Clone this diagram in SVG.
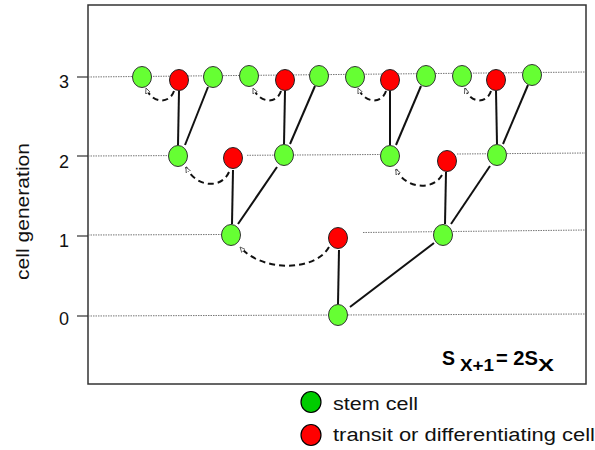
<svg xmlns="http://www.w3.org/2000/svg" width="595" height="450" viewBox="0 0 595 450">
<defs>
<style>
.grid{stroke:#666;stroke-width:0.9;stroke-dasharray:1.5 1;fill:none}
.frame{stroke:#333;stroke-width:1.5;fill:none}
.tick{stroke:#333;stroke-width:1.2}
.stem{fill:#66ff33;stroke:#333;stroke-width:1}
.tr{fill:#ff0000;stroke:#222;stroke-width:1}
.link{stroke:#111;stroke-width:2;fill:none}
.dash{stroke:#111;stroke-width:2;fill:none;stroke-dasharray:6 4;marker-end:url(#arr)}
.lbl{font-family:"Liberation Sans",Arial,sans-serif;font-size:18px;fill:#111}
.f{font-family:"Liberation Sans",Arial,sans-serif;font-weight:bold;fill:#000}
</style>
<marker id="arr" viewBox="0 0 10 10" refX="9" refY="5" markerWidth="6" markerHeight="6" orient="auto" markerUnits="userSpaceOnUse">
<path d="M0,1 L9,5 L0,9 Z" fill="#fff" stroke="#333" stroke-width="1.2"/>
</marker>
</defs>
<rect width="595" height="450" fill="#fff"/>

<g id="axes">
<rect class="frame" x="88" y="5" width="498" height="379"/>
<line class="tick" x1="77" y1="77" x2="88" y2="77"/>
<line class="tick" x1="77" y1="156" x2="88" y2="156"/>
<line class="tick" x1="77" y1="236" x2="88" y2="236"/>
<line class="tick" x1="77" y1="316" x2="88" y2="316"/>
<text class="lbl" x="64" y="88" text-anchor="middle">3</text>
<text class="lbl" x="64" y="168" text-anchor="middle">2</text>
<text class="lbl" x="64" y="247" text-anchor="middle">1</text>
<text class="lbl" x="64" y="325" text-anchor="middle">0</text>
<text class="lbl" transform="translate(29,211.5) rotate(-90)" text-anchor="middle" textLength="137" lengthAdjust="spacingAndGlyphs">cell generation</text>
</g>

<g id="gridlines">
<line class="grid" x1="88" y1="77" x2="586" y2="72"/>
<line class="grid" x1="88" y1="156" x2="168" y2="155.6"/>
<line class="grid" x1="247" y1="155.3" x2="380" y2="154.5"/>
<line class="grid" x1="457" y1="154" x2="586" y2="153"/>
<line class="grid" x1="88" y1="235" x2="221" y2="234.5"/>
<line class="grid" x1="363" y1="232.5" x2="586" y2="230"/>
<line class="grid" x1="88" y1="316" x2="586" y2="314"/>
</g>

<g id="connectors">
<line class="link" x1="179" y1="91" x2="178" y2="145"/>
<line class="link" x1="208" y1="87" x2="185" y2="145"/>
<line class="link" x1="285" y1="91" x2="284" y2="144"/>
<line class="link" x1="315" y1="86" x2="290" y2="144"/>
<line class="link" x1="390" y1="91" x2="390" y2="145"/>
<line class="link" x1="421" y1="86" x2="396" y2="145"/>
<line class="link" x1="496" y1="91" x2="497" y2="144"/>
<line class="link" x1="528" y1="85" x2="503" y2="144"/>
<line class="link" x1="233" y1="170" x2="232" y2="224"/>
<line class="link" x1="277" y1="167" x2="238" y2="224"/>
<line class="link" x1="446" y1="172" x2="445" y2="224"/>
<line class="link" x1="490" y1="166" x2="451" y2="224"/>
<line class="link" x1="339" y1="250" x2="338" y2="304"/>
<line class="link" x1="434" y1="243" x2="350" y2="307"/>
<path class="dash" d="M174,91 C170,104 152,104 146,88"/>
<path class="dash" d="M281,91 C277,104 260,104 253,88"/>
<path class="dash" d="M386,91 C382,104 365,104 358,88"/>
<path class="dash" d="M491,91 C487,104 470,104 465,88"/>
<path class="dash" d="M229,172 C222,189 196,188 186,167"/>
<path class="dash" d="M442,175 C433,191 405,189 396,169"/>
<path class="dash" d="M329,247 C315,272 262,272 240,247"/>
</g>

<g id="gen3">
<g id="n3a"><ellipse class="stem" cx="142" cy="77" rx="9.5" ry="10.5"/></g>
<g id="n3b"><ellipse class="tr" cx="179" cy="80" rx="9.5" ry="10.5"/></g>
<g id="n3c"><ellipse class="stem" cx="213" cy="77" rx="9.5" ry="10.5"/></g>
<g id="n3d"><ellipse class="stem" cx="249" cy="76" rx="9.5" ry="10.5"/></g>
<g id="n3e"><ellipse class="tr" cx="285" cy="80" rx="9.5" ry="10.5"/></g>
<g id="n3f"><ellipse class="stem" cx="319" cy="76" rx="9.5" ry="10.5"/></g>
<g id="n3g"><ellipse class="stem" cx="355" cy="77" rx="9.5" ry="10.5"/></g>
<g id="n3h"><ellipse class="tr" cx="390" cy="80" rx="9.5" ry="10.5"/></g>
<g id="n3i"><ellipse class="stem" cx="426" cy="76" rx="9.5" ry="10.5"/></g>
<g id="n3j"><ellipse class="stem" cx="462" cy="76" rx="9.5" ry="10.5"/></g>
<g id="n3k"><ellipse class="tr" cx="496" cy="80" rx="9.5" ry="10.5"/></g>
<g id="n3l"><ellipse class="stem" cx="532" cy="75" rx="9.5" ry="10.5"/></g>
</g>
<g id="gen2">
<g id="n2a"><ellipse class="stem" cx="178" cy="156" rx="9.5" ry="10.5"/></g>
<g id="n2b"><ellipse class="tr" cx="233" cy="158" rx="9.5" ry="10.5"/></g>
<g id="n2c"><ellipse class="stem" cx="284" cy="155" rx="9.5" ry="10.5"/></g>
<g id="n2d"><ellipse class="stem" cx="390" cy="156" rx="9.5" ry="10.5"/></g>
<g id="n2e"><ellipse class="tr" cx="447" cy="161" rx="9.5" ry="10.5"/></g>
<g id="n2f"><ellipse class="stem" cx="497" cy="155" rx="9.5" ry="10.5"/></g>
</g>
<g id="gen1">
<g id="n1a"><ellipse class="stem" cx="231" cy="235" rx="9.5" ry="10.5"/></g>
<g id="n1b"><ellipse class="tr" cx="338" cy="238" rx="9.5" ry="10.5"/></g>
<g id="n1c"><ellipse class="stem" cx="443" cy="235" rx="9.5" ry="10.5"/></g>
</g>
<g id="gen0">
<g id="n0a"><ellipse class="stem" cx="338" cy="315" rx="9.5" ry="10.5"/></g>
</g>

<g id="formula">
<text class="f" x="442" y="365" font-size="20" textLength="13" lengthAdjust="spacingAndGlyphs">S</text>
<text class="f" x="460" y="371" font-size="16" textLength="34" lengthAdjust="spacingAndGlyphs">X+1</text>
<text class="f" x="496" y="365" font-size="20" textLength="42" lengthAdjust="spacingAndGlyphs">= 2S</text>
<text class="f" x="538" y="371" font-size="16" textLength="16" lengthAdjust="spacingAndGlyphs">X</text>
</g>

<g id="legend">
<ellipse cx="311" cy="402" rx="10" ry="10.5" fill="#00cc00" stroke="#000" stroke-width="1.2"/>
<text class="lbl" x="333" y="410" textLength="85" lengthAdjust="spacingAndGlyphs">stem cell</text>
<ellipse cx="311" cy="435" rx="10" ry="10.5" fill="#ff0000" stroke="#000" stroke-width="1.2"/>
<text class="lbl" x="333" y="441" textLength="262" lengthAdjust="spacingAndGlyphs">transit or differentiating cell</text>
</g>
</svg>
